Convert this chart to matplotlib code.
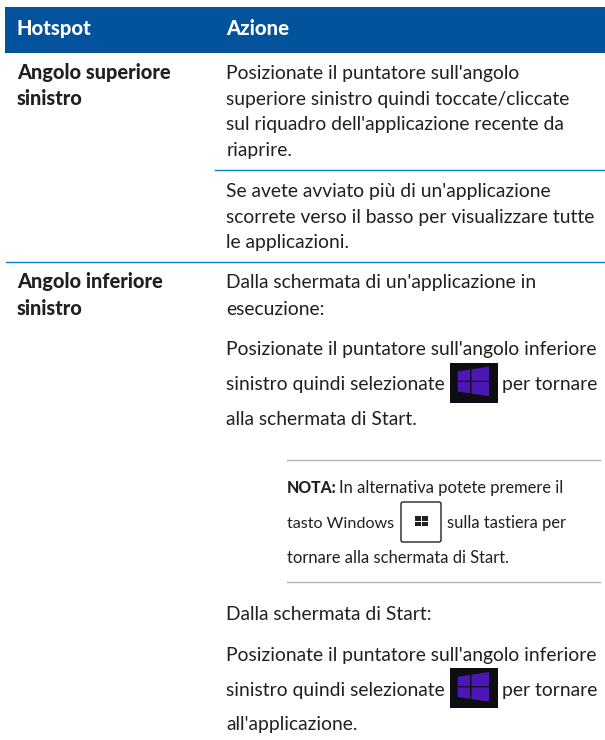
import matplotlib
matplotlib.use("Agg")
import matplotlib.pyplot as plt
from matplotlib.patches import Rectangle, FancyBboxPatch, Polygon

W, H = 605, 740
FONT = "Lato"
TEXT = "#231f20"
BLUE = "#03529c"
RULE = "#0a82c8"
GREY = "#b4b4b4"
BODY = 13.85
BOLD = 14.4
HEAD = 14.6
NOTE = 11.9
STRONG = 900
headers = ["Hotspot", "Azione"]
left_labels = [("Angolo superiore", 79), ("sinistro", 105), ("Angolo inferiore", 288), ("sinistro", 315)]
body = [
    ("Posizionate il puntatore sull'angolo", 79),
    ("superiore sinistro quindi toccate/cliccate", 105),
    ("sul riquadro dell'applicazione recente da", 130),
    ("riaprire.", 156),
    ("Se avete avviato più di un'applicazione", 197),
    ("scorrete verso il basso per visualizzare tutte", 223),
    ("le applicazioni.", 248),
    ("Dalla schermata di un'applicazione in", 288),
    ("esecuzione:", 315),
    ("Posizionate il puntatore sull'angolo inferiore", 355),
    ("sinistro quindi selezionate", 390),
    ("per tornare", 390),
    ("alla schermata di Start.", 425),
    ("Dalla schermata di Start:", 620),
    ("Posizionate il puntatore sull'angolo inferiore", 661),
    ("sinistro quindi selezionate", 696),
    ("per tornare", 696),
    ("all'applicazione.", 730),
]

fig = plt.figure(figsize=(W / 100, H / 100), dpi=100)
ax = fig.add_axes([0, 0, 1, 1])
ax.set_xlim(0, W)
ax.set_ylim(H, 0)
ax.axis("off")

ax.add_patch(Rectangle((5, 6.5), 600, 46.5, fc=BLUE, ec="none"))
for s, x in zip(headers, [17, 226.5]):
    ax.text(x, 35, s, color="white", fontsize=HEAD, fontweight=STRONG, family=FONT, va="baseline")
for s, y in left_labels:
    ax.text(17, y, s, color=TEXT, fontsize=BOLD, fontweight=STRONG, family=FONT, va="baseline")
for s, y in body:
    x = 501.7 if s == "per tornare" else 226.5
    ax.text(x, y, s, color=TEXT, fontsize=BODY, family=FONT, va="baseline")

ax.plot([215, 605], [170, 170], color=RULE, lw=1.0)
ax.plot([6, 605], [262, 262], color=RULE, lw=1.0)
ax.plot([287, 600], [459.5, 459.5], color=GREY, lw=1.0)
ax.plot([287, 600], [582, 582], color=GREY, lw=1.0)

def tile(x, y):
    c = "#4b18b6"
    ax.add_patch(Rectangle((x, y), 48, 40, fc="#0e0e12", ec="none"))
    ax.add_patch(Polygon([(x + 7.7, y + 8.7), (x + 20, y + 7), (x + 20, y + 18.2), (x + 7.7, y + 18.2)], fc=c, ec="none"))
    ax.add_patch(Polygon([(x + 21.4, y + 6.8), (x + 39, y + 4), (x + 39, y + 18.2), (x + 21.4, y + 18.2)], fc=c, ec="none"))
    ax.add_patch(Polygon([(x + 7.7, y + 19.4), (x + 20, y + 19.4), (x + 20, y + 30.8), (x + 7.7, y + 29)], fc=c, ec="none"))
    ax.add_patch(Polygon([(x + 21.4, y + 19.4), (x + 39, y + 19.4), (x + 39, y + 33.7), (x + 21.4, y + 31)], fc=c, ec="none"))
tile(450, 362.5)
tile(450, 668)

ax.text(287, 493, "NOTA:", color=TEXT, fontsize=11.3, fontweight=STRONG, family=FONT, va="baseline")
ax.text(339.3, 493, "In alternativa potete premere il", color=TEXT, fontsize=NOTE, family=FONT, va="baseline")
ax.text(287, 528, "tasto Windows", color=TEXT, fontsize=11.6, family=FONT, va="baseline")
ax.text(446.7, 528, "sulla tastiera per", color=TEXT, fontsize=NOTE, family=FONT, va="baseline")
ax.text(287, 563, "tornare alla schermata di Start.", color=TEXT, fontsize=NOTE, family=FONT, va="baseline")
ax.add_patch(FancyBboxPatch((401, 502), 40, 40, boxstyle="round,pad=0,rounding_size=2", fc="white", ec="#231f20", lw=1.0))
for dx, dy in [(0, 0), (7, 0), (0, 5.6), (7, 5.6)]:
    ax.add_patch(Rectangle((415 + dx, 516 + dy), 5.6, 4.8, fc="#231f20", ec="none"))

fig.savefig("out.png", dpi=100)
